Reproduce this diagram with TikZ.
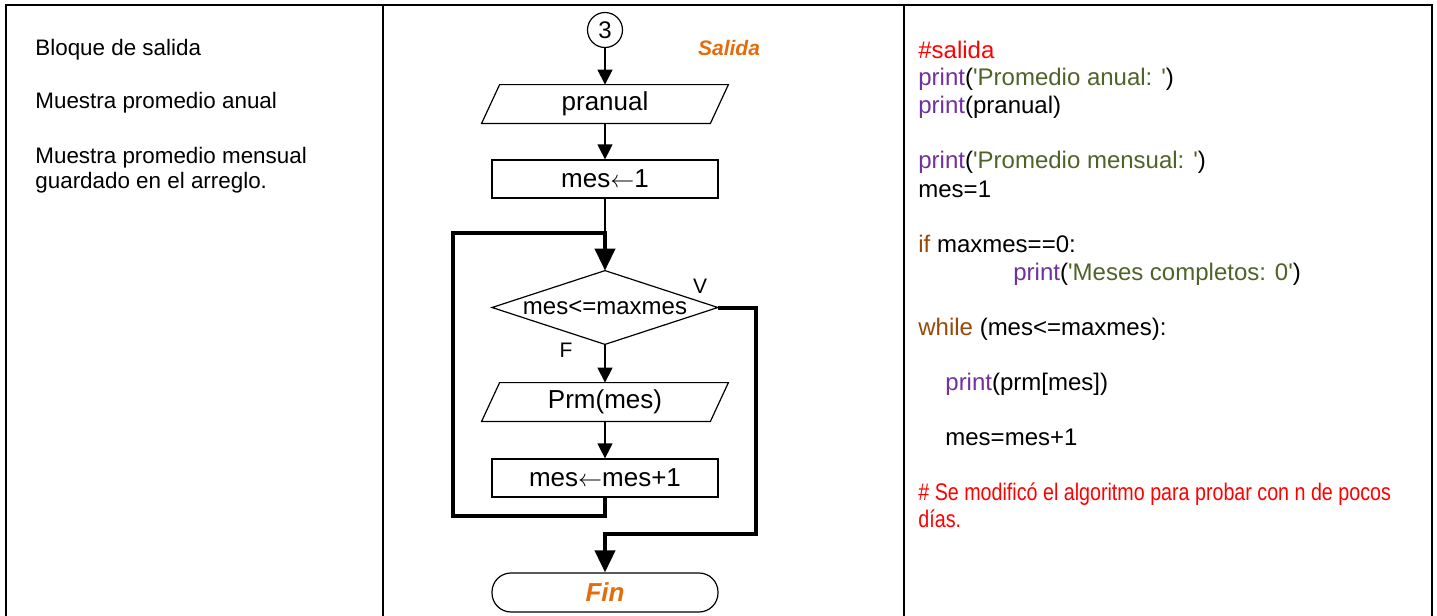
\documentclass[tikz,border=0pt]{standalone}
\usepackage{fontspec}
\setmainfont{Liberation Sans}
\newfontfamily\narrowfont[FakeStretch=0.82]{Liberation Sans}
\usetikzlibrary{arrows.meta,calc}
\definecolor{orng}{RGB}{228,108,10}
\definecolor{kwpurple}{RGB}{112,48,160}
\definecolor{strgreen}{RGB}{79,98,40}
\definecolor{kwbrown}{RGB}{152,72,6}
\definecolor{cmred}{RGB}{255,0,0}
\newcommand{\apos}{\textquotesingle}
\newcommand{\kwp}[1]{\textcolor{kwpurple}{#1}}
\newcommand{\strg}[1]{\textcolor{strgreen}{#1}}
\newcommand{\kwb}[1]{\textcolor{kwbrown}{#1}}
\newcommand{\asg}{\ensuremath{\leftarrow}}
\begin{document}
\begin{tikzpicture}[x=0.5pt,y=-0.5pt,
  tableline/.style={line width=1.25pt},
  flow/.style={line width=0.6pt},
  thinarrow/.style={flow,-{Triangle[length=7.5pt,width=7.5pt]}},
  thickarrow/.style={line width=2pt,line join=miter,-{Triangle[length=11pt,width=10pt]}},
  box/.style={rectangle,draw,line width=0.6pt,minimum width=113pt,minimum height=19pt,inner sep=0pt,font=\fontsize{13}{15}\selectfont},
  ghost/.style={rectangle,minimum width=114pt,minimum height=19pt,inner sep=0pt,font=\fontsize{13}{15}\selectfont},
  lefttxt/.style={anchor=base west,inner sep=0pt,font=\fontsize{11.2}{13}\selectfont},
  code/.style={anchor=base west,inner sep=0pt,font=\fontsize{12}{14}\selectfont},
  lbl/.style={inner sep=0pt,font=\fontsize{10.5}{12}\selectfont},
]
\useasboundingbox (0,0) rectangle (1437,616);
% table
\draw[tableline] (6,616) -- (6,5) -- (1432,5) -- (1432,616);
\draw[tableline] (383,5) -- (383,616);
\draw[tableline] (904,5) -- (904,616);
% left column
\node[lefttxt] (l1) at (35,55) {Bloque de salida};
\node[lefttxt] (l2) at (35,108) {Muestra promedio anual};
\node[lefttxt] (l3) at (35,163) {Muestra promedio mensual};
\node[lefttxt] (l4) at (35,188) {guardado en el arreglo.};
% code column
\node[code] (c1) at (918,58) {\textcolor{cmred}{\#salida}};
\node[code] (c2) at (918,85) {\kwp{print}(\strg{\apos Promedio anual: \apos})};
\node[code] (c3) at (918,113) {\kwp{print}(pranual)};
\node[code] (c4) at (918,168) {\kwp{print}(\strg{\apos Promedio mensual: \apos})};
\node[code] (c5) at (918,197) {mes=1};
\node[code] (c6) at (918,252) {\kwb{if} maxmes==0:};
\node[code] (c7) at (1013,280) {\kwp{print}(\strg{\apos Meses completos: 0\apos})};
\node[code] (c8) at (918,335) {\kwb{while} (mes<=maxmes):};
\node[code] (c9) at (945,390) {\kwp{print}(prm[mes])};
\node[code] (c10) at (945,445) {mes=mes+1};
\node[code,text=cmred,font=\fontsize{12}{14}\narrowfont] (c11) at (918,500) {\# Se modificó el algoritmo para probar con n de pocos};
\node[code,text=cmred,font=\fontsize{12}{14}\narrowfont] (c12) at (918,527) {días.};
% flowchart
\node[font=\fontsize{10.5}{12}\bfseries\itshape,text=orng,inner sep=0pt] (sal) at (729,48) {Salida};
\node[circle,draw,flow,minimum size=17.5pt,inner sep=0pt,font=\fontsize{12}{14}\selectfont] (k3) at (605,30) {3};
\node[ghost] (p1) at (605,104) {pranual};
\draw[flow] ([xshift=4.5pt]p1.north west) -- ([xshift=4.5pt]p1.north east) -- ([xshift=-4.5pt]p1.south east) -- ([xshift=-4.5pt]p1.south west) -- cycle;
\node[box] (r1) at (605,179) {mes\asg1};
\coordinate (j) at (605,233);
\node[ghost,minimum width=112.5pt,minimum height=36.5pt,font=\fontsize{12}{14}\selectfont] (d) at (605,307.5) {mes<=maxmes};
\draw[flow] (d.west) -- (d.north) -- (d.east) -- (d.south) -- cycle;
\node[lbl] (v) at (700,286) {V};
\node[lbl] (f) at (566,350) {F};
\node[ghost] (p2) at (605,402) {Prm(mes)};
\draw[flow] ([xshift=4.5pt]p2.north west) -- ([xshift=4.5pt]p2.north east) -- ([xshift=-4.5pt]p2.south east) -- ([xshift=-4.5pt]p2.south west) -- cycle;
\node[box] (r2) at (605,478) {mes\asg mes+1};
\node[box,rounded corners=9.5pt,minimum height=19.5pt,font=\fontsize{13}{15}\bfseries\itshape,text=orng] (fin) at (605,592.5) {Fin};
% connectors
\coordinate (lb) at (453,516);
\coordinate (lt) at (453,233);
\coordinate (er) at (756,534);
\draw[thinarrow] (k3.south) -- (p1.north);
\draw[thinarrow] (p1.south) -- (r1.north);
\draw[flow] (r1.south) -- (j);
\draw[thinarrow] (d.south) -- (p2.north);
\draw[thinarrow] (p2.south) -- (r2.north);
\draw[thickarrow] (r2.south) |- (lb) -- (lt) -| (d.north);
\draw[thickarrow] (d.east) -| (er) -| (fin.north);
\end{tikzpicture}
\end{document}
